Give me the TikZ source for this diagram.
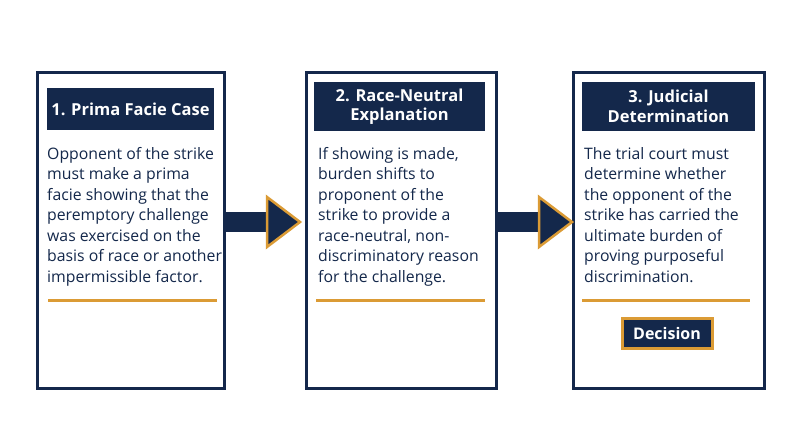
\documentclass[tikz,border=0pt]{standalone}
\usepackage{fontspec}
\setmainfont{Open Sans}
\definecolor{navy}{HTML}{14284B}
\definecolor{gold}{HTML}{DB9B35}
\begin{document}
\begin{tikzpicture}[x=1pt,y=-1pt,
  box/.style={draw=navy,line width=3pt,fill=white},
  ttl/.style={fill=navy,text=white,font=\bfseries\fontsize{16.5}{19.5}\selectfont,align=center,inner sep=0pt},
  body/.style={anchor=north west,text=navy,font=\fontsize{15.8}{20.5}\selectfont,align=left,inner sep=0pt},
  rule/.style={draw=gold,line width=3pt},
  arr/.style={fill=navy,draw=gold,line width=2.5pt,line join=miter}]
\useasboundingbox (0,0) rectangle (800,447);
\draw[box] (37,72) rectangle (224,388);
\draw[box] (306,72) rectangle (496,388);
\draw[box] (573,72) rectangle (764,388);
\node[ttl,minimum width=167pt,minimum height=42pt] (t1) at (130.5,109) {1. Prima Facie Case};
\node[ttl,minimum width=171pt,minimum height=49pt] (t2) at (399.5,106.5) {2. Race-Neutral\\Explanation};
\node[ttl,minimum width=173pt,minimum height=49pt] (t3) at (668.5,106.5) {3. Judicial\\Determination};
\node[body] (b1) at (47,147) {Opponent of the strike\\must make a prima\\facie showing that the\\peremptory challenge\\was exercised on the\\basis of race or another\\impermissible factor.};
\node[body] (b2) at (318,147) {If showing is made,\\burden shifts to\\proponent of the\\strike to provide a\\race-neutral, non-\\discriminatory reason\\for the challenge.};
\node[body] (b3) at (584,147) {The trial court must\\determine whether\\the opponent of the\\strike has carried the\\ultimate burden of\\proving purposeful\\discrimination.};
\draw[rule] (48,300) -- (217,300);
\draw[rule] (316,300) -- (485,300);
\draw[rule] (582,300) -- (750,300);
\node[fill=navy,draw=gold,line width=3pt,text=white,font=\bfseries\fontsize{16}{18}\selectfont,minimum width=90pt,minimum height=30pt,inner sep=0pt] (d) at (667,333) {Decision};
\foreach \a/\b in {224/306,496/573}{
  \fill[navy] (\a+1.5,212) rectangle (\a+43,232);
  \draw[arr] (\a+43,197) -- (\a+76,222) -- (\a+43,247) -- cycle;
}
\end{tikzpicture}
\end{document}
